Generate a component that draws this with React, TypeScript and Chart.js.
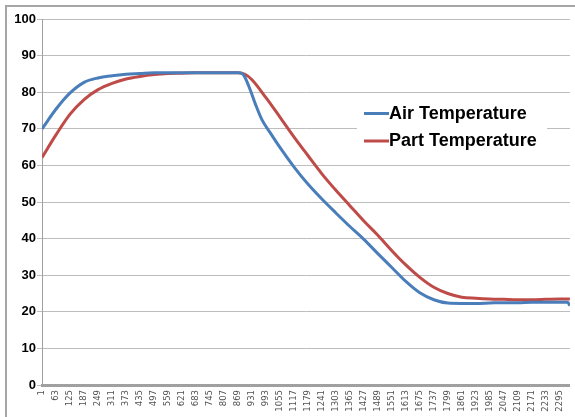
import React, { useEffect, useRef } from "react";
import { Chart, registerables } from "chart.js";

Chart.register(...registerables);

const airIndex = [
  1, 63, 125, 187, 249, 311, 373, 435, 497, 559, 621, 683, 745, 807, 869, 890,
  918, 946, 975, 1010, 1055, 1117, 1179, 1241, 1303, 1365, 1427, 1489, 1551,
  1613, 1675, 1737, 1799, 1861, 1923, 1985, 2047, 2109, 2171, 2233, 2295, 2330,
  2340,
];

const airTemperature = [
  70.0, 75.4, 79.8, 82.7, 83.9, 84.5, 84.9, 85.1, 85.3, 85.3, 85.3, 85.3, 85.3,
  85.3, 85.3, 85.0, 81.5, 76.8, 72.5, 69.1, 64.9, 59.6, 54.9, 50.8, 47.0, 43.3,
  39.8, 35.9, 32.1, 28.3, 25.2, 23.3, 22.4, 22.3, 22.3, 22.4, 22.5, 22.5, 22.6,
  22.6, 22.6, 22.6, 21.7,
];

const partIndex = [
  1, 63, 125, 187, 249, 311, 373, 435, 497, 559, 621, 683, 745, 807, 869, 900,
  931, 993, 1055, 1117, 1179, 1241, 1303, 1365, 1427, 1489, 1551, 1613, 1675,
  1737, 1799, 1861, 1923, 1985, 2047, 2109, 2171, 2233, 2295, 2340,
];

const partTemperature = [
  62.2, 68.4, 74.0, 78.0, 80.7, 82.4, 83.6, 84.3, 84.8, 85.1, 85.2, 85.3, 85.3,
  85.3, 85.3, 84.9, 83.4, 78.5, 73.2, 67.8, 62.7, 57.7, 53.2, 49.0, 44.8, 40.9,
  36.7, 32.8, 29.4, 26.7, 25.0, 24.0, 23.7, 23.5, 23.4, 23.3, 23.3, 23.4, 23.5,
  23.5,
];

const xTickLabels = [
  1, 63, 125, 187, 249, 311, 373, 435, 497, 559, 621, 683, 745, 807, 869, 931,
  993, 1055, 1117, 1179, 1241, 1303, 1365, 1427, 1489, 1551, 1613, 1675, 1737,
  1799, 1861, 1923, 1985, 2047, 2109, 2171, 2233, 2295,
];

const seriesNames = ["Air Temperature", "Part Temperature"];
const seriesColors = ["#4A7EBB", "#BE4B48"];
const pointCount = 2340;

const frameAndLegend = {
  id: "frameAndLegend",
  afterDraw(chart: any) {
    const ctx = chart.ctx;
    ctx.save();
    ctx.strokeStyle = "#a6a6a6";
    ctx.lineWidth = 2;
    ctx.strokeRect(6, 6, 600, 450);
    ctx.fillStyle = "#ffffff";
    ctx.fillRect(357, 96, 190, 62);
    const rows = [113.5, 141];
    chart.data.datasets.forEach((ds: any, i: number) => {
      const y = rows[i];
      ctx.strokeStyle = ds.borderColor;
      ctx.lineWidth = 3;
      ctx.beginPath();
      ctx.moveTo(364, y);
      ctx.lineTo(389, y);
      ctx.stroke();
      ctx.fillStyle = "#000000";
      ctx.font = "bold 18px 'Liberation Sans', Arial, sans-serif";
      ctx.textBaseline = "middle";
      ctx.textAlign = "left";
      ctx.fillText(ds.label, 389, y + 0.5);
    });
    ctx.restore();
  },
};

export default function App() {
  const ref = useRef<HTMLCanvasElement | null>(null);

  useEffect(() => {
    if (!ref.current) return;
    const series = [
      [airIndex, airTemperature],
      [partIndex, partTemperature],
    ];
    const chart = new Chart(ref.current, {
      type: "line",
      data: {
        datasets: series.map(([xs, vals], i) => ({
          label: seriesNames[i],
          data: xs.map((x, j) => ({ x, y: vals[j] })),
          borderColor: seriesColors[i],
          backgroundColor: seriesColors[i],
          borderWidth: 3,
          pointRadius: 0,
          cubicInterpolationMode: "monotone" as const,
          fill: false,
        })),
      },
      options: {
        animation: false,
        responsive: false,
        devicePixelRatio: 1,
        layout: { padding: { top: 19, right: 4.5, left: 0, bottom: 0 } },
        plugins: {
          legend: { display: false },
          tooltip: { enabled: false },
        },
        scales: {
          x: {
            type: "linear",
            min: 0.5,
            max: pointCount + 0.5,
            afterBuildTicks: (scale: any) => {
              scale.ticks = xTickLabels.map((v) => ({ value: v }));
            },
            afterFit: (scale: any) => {
              scale.height = 32;
            },
            grid: { display: false, drawTicks: false },
            border: { display: true, color: "#a0a0a0", width: 3 },
            ticks: {
              autoSkip: false,
              minRotation: 90,
              maxRotation: 90,
              padding: 5,
              color: "#505050",
              font: { family: "'DejaVu Sans', sans-serif", size: 8.5 },
              callback: (v: any) => String(v),
            },
          },
          y: {
            min: 0,
            max: 100,
            afterFit: (scale: any) => {
              scale.width = 42;
            },
            grid: {
              color: "#bdbdbd",
              lineWidth: 1,
              drawTicks: true,
              tickLength: 5,
            },
            border: { display: true, color: "#a0a0a0", width: 1 },
            ticks: {
              stepSize: 10,
              padding: 1,
              color: "#000000",
              font: {
                family: "'Liberation Sans', Arial, sans-serif",
                size: 13,
                weight: "bold",
              },
            },
          },
        },
      },
      plugins: [frameAndLegend],
    });
    return () => chart.destroy();
  }, []);

  return (
    <div style={{ position: "absolute", left: 0, top: 0, width: 575, height: 417 }}>
      <canvas ref={ref} width={575} height={417} />
    </div>
  );
}
